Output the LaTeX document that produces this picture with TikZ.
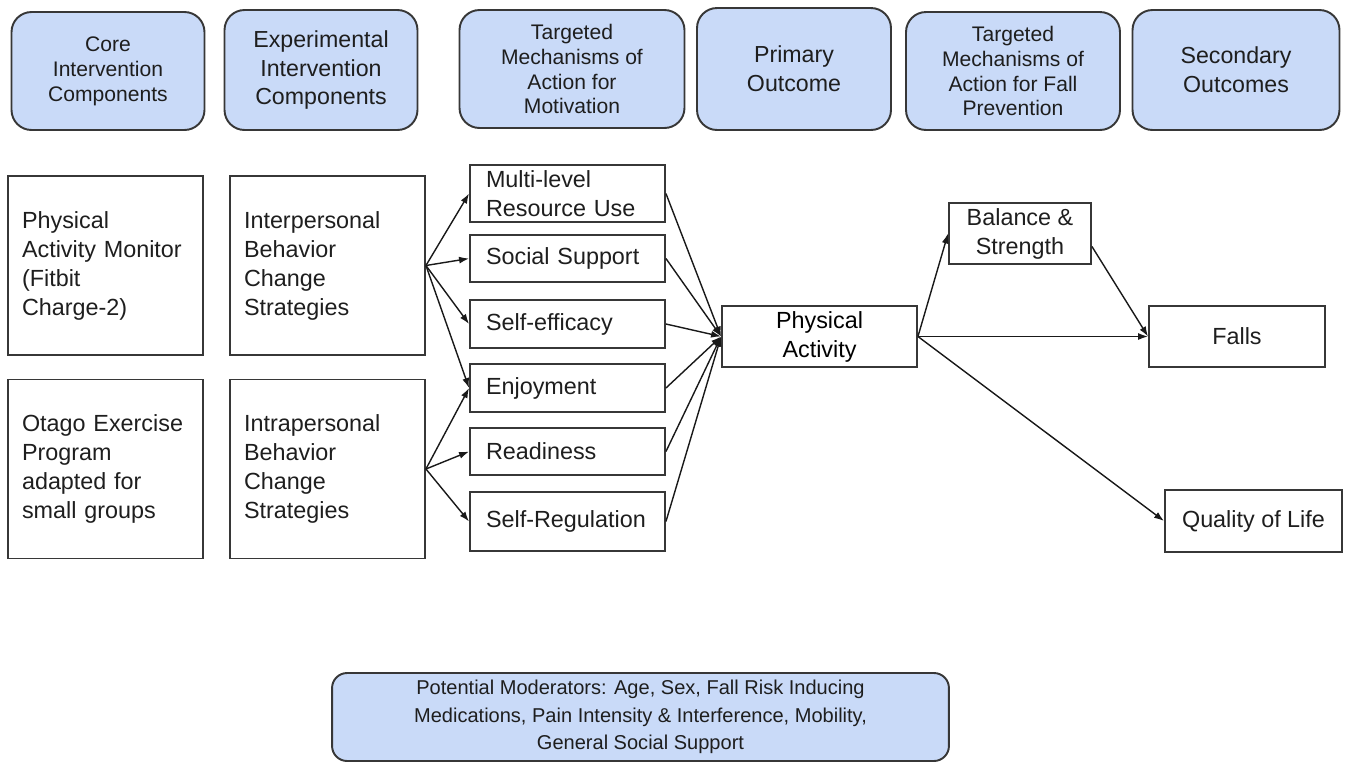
\documentclass[tikz,border=0pt]{standalone}
\usepackage{fontspec}
\setmainfont{Liberation Sans}
\usetikzlibrary{arrows.meta}
\definecolor{hdrblue}{RGB}{201,218,248}
\definecolor{edgegray}{RGB}{55,55,55}
\definecolor{inkgray}{RGB}{30,30,30}

\begin{document}
\begin{tikzpicture}[x=0.02cm,y=-0.02cm,
  hdr/.style={draw=edgegray,line width=1.1pt,fill=hdrblue,rounded corners=0.4cm,
    align=center,inner sep=0pt,text=inkgray,font=\fontsize{12}{14.2}\selectfont},
  hdrbig/.style={hdr,font=\fontsize{13.2}{16.5}\selectfont},
  blk/.style={draw=edgegray,line width=1.1pt,inner sep=0pt,align=center,
    text=inkgray,font=\fontsize{13.3}{16.5}\selectfont},
  lft/.style={blk,align=left,inner xsep=0.28cm,text width=3.34cm,minimum height=3.58cm},
  mot/.style={blk,align=left,inner xsep=0.32cm,text width=3.26cm},
  arr/.style={-{Latex[length=2mm,width=1.4mm]},line width=0.8pt,draw=black!90}]
\useasboundingbox (0,0) rectangle (1350,762);

\node[hdr,minimum width=3.86cm,minimum height=2.36cm] (core) at (108,71) {Core\\Intervention\\Components};
\node[hdrbig,minimum width=3.86cm,minimum height=2.4cm] (expe) at (321,70) {Experimental\\Intervention\\Components};
\node[hdr,minimum width=4.5cm,minimum height=2.36cm] (mechmot) at (572,69) {Targeted\\Mechanisms of\\Action for\\Motivation};
\node[hdrbig,minimum width=3.88cm,minimum height=2.44cm] (prim) at (794,69) {Primary\\Outcome};
\node[hdr,minimum width=4.28cm,minimum height=2.36cm] (mechfall) at (1013,71) {Targeted\\Mechanisms of\\Action for Fall\\Prevention};
\node[hdrbig,minimum width=4.14cm,minimum height=2.4cm] (second) at (1236,70) {Secondary\\Outcomes};

\node[lft] (monitor) at (105.5,265.5) {Physical\\Activity Monitor\\(Fitbit\\Charge-2)};
\node[lft] (otago) at (105.5,469) {Otago Exercise\\Program\\adapted for\\small groups};
\node[lft] (inter) at (327.5,265.5) {Interpersonal\\Behavior\\Change\\Strategies};
\node[lft] (intra) at (327.5,469) {Intrapersonal\\Behavior\\Change\\Strategies};

\node[mot,minimum height=1.14cm] (resource) at (567.5,193.5) {Multi-level\\Resource Use};
\node[mot,minimum height=0.94cm] (social) at (567.5,258.5) {Social Support};
\node[mot,minimum height=0.96cm] (efficacy) at (567.5,324) {Self-efficacy};
\node[mot,minimum height=0.96cm] (enjoy) at (567.5,388) {Enjoyment};
\node[mot,minimum height=0.94cm] (ready) at (567.5,451.5) {Readiness};
\node[mot,minimum height=1.18cm] (regul) at (567.5,521.5) {Self-Regulation};

\node[blk,minimum width=3.9cm,minimum height=1.22cm,text=black] (pa) at (819.5,336.5) {Physical\\Activity};
\node[blk,minimum width=2.84cm,minimum height=1.22cm] (balance) at (1020,233.5) {Balance \&\\Strength};
\node[blk,minimum width=3.52cm,minimum height=1.22cm] (falls) at (1237,336.5) {Falls};
\node[blk,minimum width=3.54cm,minimum height=1.24cm] (qol) at (1253.5,521) {Quality of Life};

\node[hdr,rounded corners=0.3cm,minimum width=12.34cm,minimum height=1.76cm,
  font=\fontsize{11.4}{15.6}\selectfont] (moder) at (640.5,717)
  {Potential Moderators: Age, Sex, Fall Risk Inducing\\Medications, Pain Intensity \& Interference, Mobility,\\General Social Support};

\foreach \m in {resource,social,efficacy,enjoy}
  \draw[arr] (inter.east) -- (\m.west);
\foreach \m in {enjoy,ready,regul}
  \draw[arr] (intra.east) -- (\m.west);
\foreach \m in {resource,social,efficacy,enjoy,ready,regul}
  \draw[arr] (\m.east) -- (pa.west);

\draw[arr] (pa.east) -- (balance.west);
\draw[arr] (pa.east) -- (falls.west);
\draw[arr] (pa.east) -- (qol.west);
\draw[arr] ([yshift=-0.26cm]balance.east) -- (falls.west);
\end{tikzpicture}
\end{document}
